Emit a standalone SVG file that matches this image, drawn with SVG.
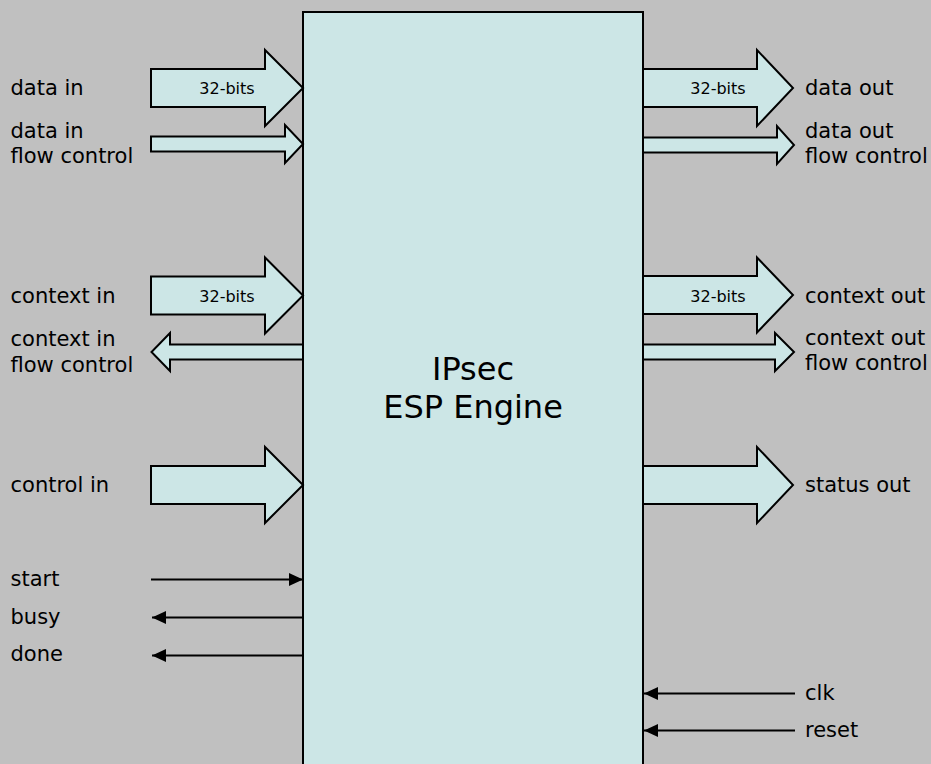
<svg xmlns="http://www.w3.org/2000/svg" width="931" height="764" viewBox="0 0 931 764">
<defs>
<style>
.bg{fill:#c0c0c0}
.blk{fill:#cce6e6;stroke:#000;stroke-width:2}
.arr{fill:#cce6e6;stroke:#000;stroke-width:2;stroke-linejoin:miter}
.ln{stroke:#000;stroke-width:2;fill:none}
text{font-family:"DejaVu Sans",Verdana,sans-serif;fill:#000}
.lbl{font-size:21px}
.bits{font-size:16px;text-anchor:middle}
.title{font-size:32px;text-anchor:middle}
</style>
<marker id="ah" viewBox="0 0 14 13" refX="14" refY="6.5" markerWidth="14" markerHeight="13" markerUnits="userSpaceOnUse" orient="auto">
<path d="M0,0 L14,6.5 L0,13 Z" fill="#000"/>
</marker>
</defs>
<rect class="bg" x="0" y="0" width="931" height="764"/>
<g id="engine">
<rect class="blk" x="303" y="12" width="340" height="800"/>
<text class="title" x="473" y="380">IPsec</text>
<text class="title" x="473" y="418">ESP Engine</text>
</g>
<g id="connectors">
<g id="data-in">
<polygon class="arr" points="151,69 265,69 265,50 303,88 265,126 265,107 151,107"/>
<text class="bits" x="227" y="94">32-bits</text>
</g>
<polygon id="data-in-fc" class="arr" points="151,136.5 285,136.5 285,125 303,144 285,163 285,151.5 151,151.5"/>
<g id="context-in">
<polygon class="arr" points="151,276.5 265,276.5 265,257.5 303,295.5 265,333.5 265,314.5 151,314.5"/>
<text class="bits" x="227" y="301.5">32-bits</text>
</g>
<polygon id="context-in-fc" class="arr" points="303,344.5 170,344.5 170,333 151.5,352 170,371 170,359.5 303,359.5"/>
<polygon id="control-in" class="arr" points="151,466 265,466 265,447 303,485 265,523 265,504 151,504"/>
<g id="data-out">
<polygon class="arr" points="643,69 757,69 757,50 793,88 757,126 757,107 643,107"/>
<text class="bits" x="718" y="94">32-bits</text>
</g>
<polygon id="data-out-fc" class="arr" points="643,137.5 777,137.5 777,126 794,145 777,164 777,152.5 643,152.5"/>
<g id="context-out">
<polygon class="arr" points="643,276 757,276 757,257.5 793,295 757,332.5 757,314 643,314"/>
<text class="bits" x="718" y="301.5">32-bits</text>
</g>
<polygon id="context-out-fc" class="arr" points="643,344.5 775,344.5 775,333 794,352 775,371 775,359.5 643,359.5"/>
<polygon id="status-out" class="arr" points="643,466 757,466 757,447 793,485 757,523 757,504 643,504"/>
<line class="ln" x1="151" y1="579.5" x2="303" y2="579.5" marker-end="url(#ah)"/>
<line class="ln" x1="303" y1="617.5" x2="152" y2="617.5" marker-end="url(#ah)"/>
<line class="ln" x1="303" y1="655.5" x2="152" y2="655.5" marker-end="url(#ah)"/>
<line class="ln" x1="795" y1="693.5" x2="644" y2="693.5" marker-end="url(#ah)"/>
<line class="ln" x1="795" y1="730.5" x2="644" y2="730.5" marker-end="url(#ah)"/>
</g>
<g id="labels">
<text class="lbl" x="10.5" y="94.5">data in</text>
<text class="lbl" x="10.5" y="138">data in</text>
<text class="lbl" x="10.5" y="163">flow control</text>
<text class="lbl" x="10.5" y="303">context in</text>
<text class="lbl" x="10.5" y="346">context in</text>
<text class="lbl" x="10.5" y="371.5">flow control</text>
<text class="lbl" x="10.5" y="491.5">control in</text>
<text class="lbl" x="10.5" y="585.5">start</text>
<text class="lbl" x="10.5" y="623.5">busy</text>
<text class="lbl" x="10.5" y="661">done</text>
<text class="lbl" x="805" y="95">data out</text>
<text class="lbl" x="805" y="137.5">data out</text>
<text class="lbl" x="805" y="163">flow control</text>
<text class="lbl" x="805" y="302.5">context out</text>
<text class="lbl" x="805" y="344.5">context out</text>
<text class="lbl" x="805" y="370">flow control</text>
<text class="lbl" x="805" y="492">status out</text>
<text class="lbl" x="805" y="700">clk</text>
<text class="lbl" x="805" y="737">reset</text>
</g>
</svg>
